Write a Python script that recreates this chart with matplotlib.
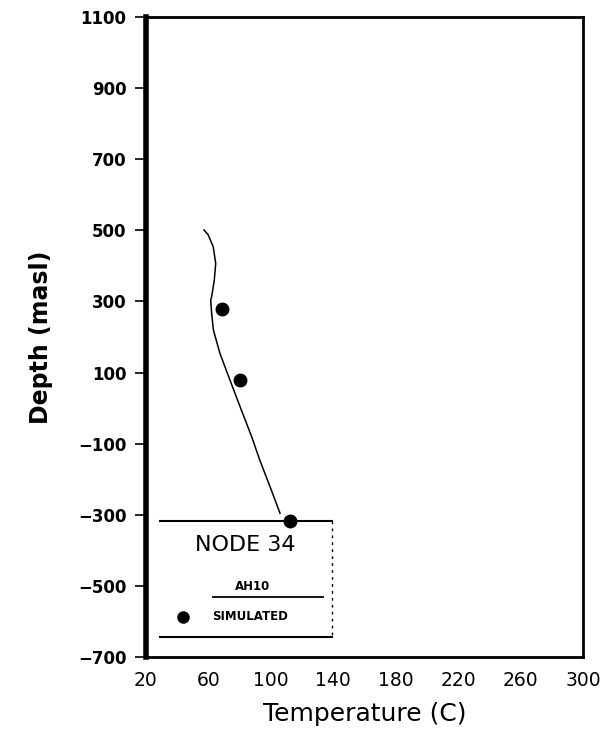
import matplotlib
matplotlib.use("Agg")
import matplotlib.pyplot as plt
from matplotlib.lines import Line2D

# Measured profile (AH10)
meas_temp = [57.2, 59.9, 63.1, 64.7, 63.8, 62.1, 61.5, 62.1, 63.2, 67.4, 73.8, 80.3, 87.7, 92.9, 99.5, 105.9]
meas_depth = [501, 487, 454, 407, 360, 313, 304, 267, 220, 154, 79, 4, -80, -146, -221, -296]

# Simulated
sim_temp = [68.7, 80.3, 112.0]
sim_depth = [279, 79, -317]

xticks = [20, 60, 100, 140, 180, 220, 260, 300]
yticks = [1100, 900, 700, 500, 300, 100, -100, -300, -500, -700]

plt.rcParams['font.family'] = ['DejaVu Sans']

fig = plt.figure(figsize=(6.08, 7.42), dpi=100)
ax = fig.add_axes([0.240, 0.1146, 0.719, 0.8625])

ax.plot(meas_temp, meas_depth, color='black', lw=1.1)
ax.plot(sim_temp, sim_depth, 'o', color='black', ms=9, clip_on=False, zorder=5)

ax.set_xlim(20, 300)
ax.set_ylim(-700, 1100)
ax.set_xticks(xticks)
ax.set_yticks(yticks)
ax.set_xticklabels([str(v) for v in xticks], fontsize=13.5)
ax.set_yticklabels([str(v).replace('-', '\u2212') for v in yticks], fontsize=12, fontweight='bold')
ax.tick_params(axis='x', length=0, pad=10)
ax.tick_params(axis='y', length=8, width=1.2, pad=6, direction='out')

for s in ['top', 'right', 'bottom']:
    ax.spines[s].set_linewidth(2.0)
ax.spines['left'].set_linewidth(4.0)

ax.set_xlabel('Temperature (C)', fontsize=18, labelpad=9)
ax.set_ylabel('Depth (masl)', fontsize=17, fontweight='bold', labelpad=18)

# Legend box drawn in axes coordinates
T = ax.transAxes
ax.add_line(Line2D([0.032, 0.426], [0.2125, 0.2125], transform=T, color='black', lw=1.5, clip_on=False))
ax.add_line(Line2D([0.032, 0.426], [0.031, 0.031], transform=T, color='black', lw=1.5, clip_on=False))
ax.add_line(Line2D([0.426, 0.426], [0.2125, 0.031], transform=T, color='black', lw=1.0, ls=(0, (2, 3)), clip_on=False))
ax.text(0.227, 0.175, 'NODE 34', transform=T, ha='center', va='center', fontsize=16)
ax.text(0.243, 0.110, 'AH10', transform=T, ha='center', va='center', fontsize=8.5, fontweight='bold')
ax.add_line(Line2D([0.153, 0.405], [0.094, 0.094], transform=T, color='black', lw=1.3))
ax.add_line(Line2D([0.085], [0.0625], transform=T, marker='o', color='black', ms=8, ls='none'))
ax.text(0.151, 0.0625, 'SIMULATED', transform=T, ha='left', va='center', fontsize=8.5, fontweight='bold')

fig.savefig('out.png', dpi=100)
